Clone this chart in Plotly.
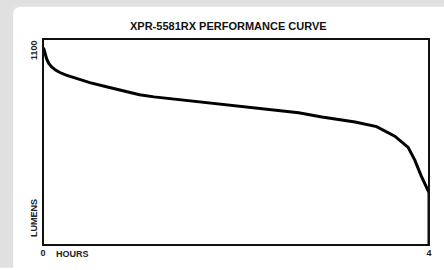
import plotly.graph_objects as go

# Data
hours = [0.005, 0.015, 0.038, 0.060, 0.090, 0.130, 0.175, 0.240, 0.312, 0.400, 0.485,
         0.657, 0.828, 1.0, 1.15, 1.309, 1.55, 1.894, 2.237, 2.649, 2.89, 3.234,
         3.457, 3.646, 3.784, 3.853, 3.92, 3.99, 4.0, 4.0]
lumens = [1054, 1030, 994, 970, 951, 934, 921, 907, 896, 881, 867,
          845, 823, 802, 791, 782, 769, 747, 728, 706, 683, 657,
          632, 581, 521, 453, 368, 294, 280, 0]

x_tick_vals = [0, 4]
x_tick_text = ["0", "4"]
y_max = 1100
title_text = "XPR-5581RX PERFORMANCE CURVE"
x_title = "HOURS"
y_title = "LUMENS"

W, H = 444, 270
L, R, T, B = 43, 13, 39, 14
pw, ph = W - L - R, H - T - B
GREY = "#e0e0e0"

def px_x(p):
    return (p - L) / pw

def px_y(p):
    return (H - B - p) / ph

fig = go.Figure()
fig.add_trace(go.Scatter(x=hours, y=lumens, mode="lines",
                         line=dict(color="black", width=3),
                         hoverinfo="skip", showlegend=False, cliponaxis=False))

# grey frame around a white panel with a rounded top-left corner
r = 8
fig.add_shape(type="rect", xref="paper", yref="paper", x0=px_x(-5), x1=px_x(13),
              y0=px_y(280), y1=px_y(-5), fillcolor=GREY, line=dict(width=0), layer="below")
fig.add_shape(type="rect", xref="paper", yref="paper", x0=px_x(-5), x1=px_x(450),
              y0=px_y(5), y1=px_y(-5), fillcolor=GREY, line=dict(width=0), layer="below")
corner = (f"M {px_x(13)},{px_y(5)} L {px_x(13)},{px_y(5 + r)} "
          f"Q {px_x(13)},{px_y(5)} {px_x(13 + r)},{px_y(5)} Z")
fig.add_shape(type="path", path=corner, xref="paper", yref="paper",
              fillcolor=GREY, line=dict(width=0), layer="below")
# plot border
fig.add_shape(type="rect", x0=0, y0=0, x1=1, y1=1, xref="paper", yref="paper",
              line=dict(color="#111111", width=2), layer="above")

font_b = dict(family="Liberation Sans, Arial", size=9, color="#222222", weight="bold")

fig.add_annotation(text=title_text, xref="paper", yref="paper",
                   x=px_x(229), y=px_y(25), xanchor="center", yanchor="middle",
                   showarrow=False,
                   font=dict(family="Liberation Sans, Arial", size=11, color="#111111", weight="bold"))
fig.add_annotation(text=x_title, xref="paper", yref="paper",
                   x=px_x(54), y=px_y(265), xanchor="left", yanchor="middle",
                   showarrow=False, font=font_b)
fig.add_annotation(text=str(y_max), xref="paper", yref="paper",
                   x=px_x(34), y=px_y(38), xanchor="center", yanchor="top",
                   textangle=-90, showarrow=False, font=font_b)
fig.add_annotation(text=y_title, xref="paper", yref="paper",
                   x=px_x(34.5), y=px_y(228), xanchor="center", yanchor="middle",
                   textangle=-90, showarrow=False, font=font_b)

fig.update_layout(
    autosize=True,
    margin=dict(l=L, r=R, t=T, b=B, pad=0),
    paper_bgcolor="white", plot_bgcolor="rgba(0,0,0,0)",
    xaxis=dict(range=[0, 4], tickvals=x_tick_vals, ticktext=x_tick_text,
               showgrid=False, zeroline=False, showline=False, ticks="",
               tickfont=font_b, ticklabelstandoff=1, fixedrange=True),
    yaxis=dict(range=[0, y_max], showticklabels=False, showgrid=False,
               zeroline=False, showline=False, ticks="", fixedrange=True),
)

fig.write_html(
    "out.html", config={"displayModeBar": False, "responsive": True},
    default_width="100vw", default_height="100vh",
    post_script=("document.documentElement.style.overflow='hidden';"
                 "document.documentElement.style.margin='0';"
                 "document.body.style.margin='0';"
                 "document.body.style.padding='0';"
                 "document.body.style.overflow='hidden';"
                 "Plotly.Plots.resize(document.getElementById('{plot_id}'));"))
